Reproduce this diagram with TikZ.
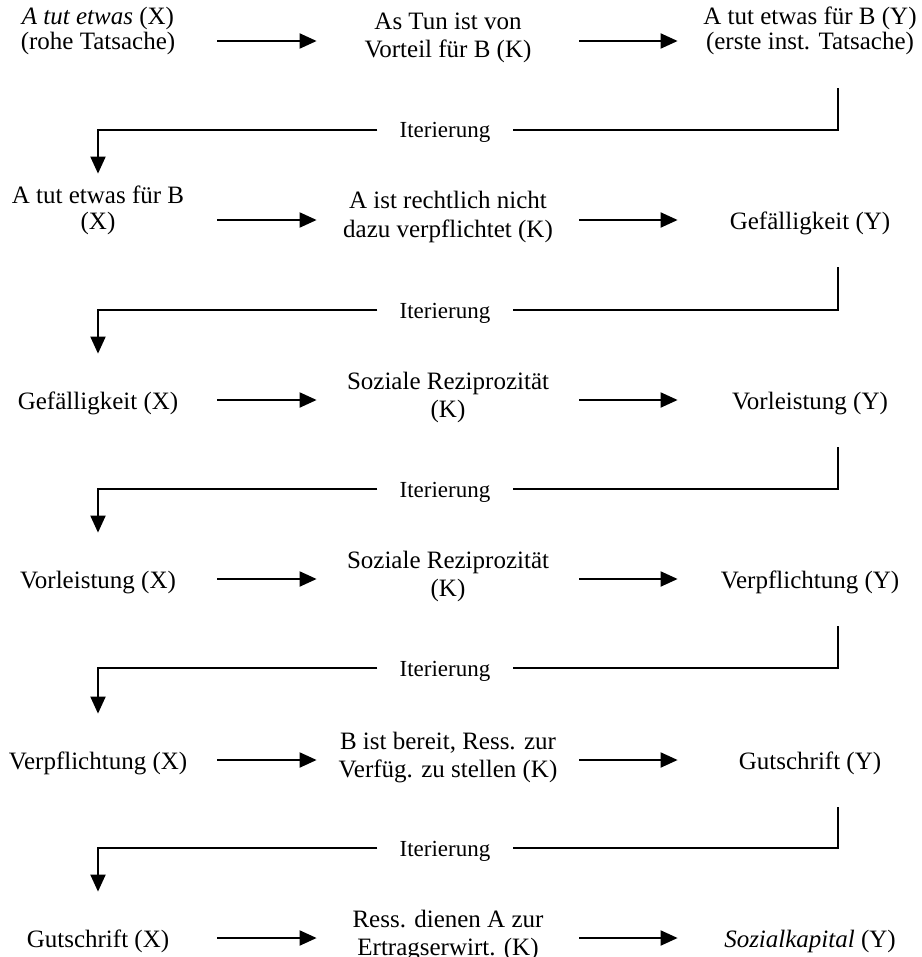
\documentclass[tikz,border=0pt]{standalone}
\usepackage{fontspec}
\setmainfont{Liberation Serif}
\usetikzlibrary{arrows.meta}

% two-line cell, aligned on its last line
\newcommand{\cell}[1]{\begin{tabular}[b]{@{}c@{}}#1\end{tabular}}

\begin{document}
\begin{tikzpicture}[x=0.5pt,y=-0.5pt,
  every node/.style={inner sep=0pt, anchor=base, font=\fontsize{12.5}{12.8}\selectfont},
  xcol/.style={text height=13pt, text depth=4pt, minimum width=119pt},
  kcol/.style={text height=21pt, text depth=4pt, minimum width=131pt, font=\fontsize{12.5}{14}\selectfont},
  ycol/.style={text height=13pt, text depth=4pt, minimum width=132pt},
  iterlabel/.style={anchor=center, fill=white, inner xsep=11pt, text height=8pt, text depth=0pt, font=\fontsize{11.5}{13}\selectfont},
  link/.style={line width=1pt},
  arr/.style={line width=1pt, -{Triangle[length=8.5pt,width=7.5pt]}},
  down/.style={arr, shorten >=14.5pt},
  up/.style={link, shorten <=15pt}]

\useasboundingbox (0,0) rectangle (921,957);

% Row 1
\node[xcol] (X1) at (98,50) {\cell{\textit{A tut etwas} (X)\\(rohe Tatsache)}};
\node[kcol] (K1) at (448,58) {\cell{As Tun ist von\\Vorteil für B (K)}};
\node[ycol] (Y1) at (810,50) {\cell{A tut etwas für B (Y)\\(erste inst. Tatsache)}};

% Row 2
\node[xcol] (X2) at (98,229) {\cell{A tut etwas für B\\(X)}};
\node[kcol] (K2) at (448,237) {\cell{A ist rechtlich nicht\\dazu verpflichtet (K)}};
\node[ycol] (Y2) at (810,229) {Gefälligkeit (Y)};

% Row 3
\node[xcol] (X3) at (98,409) {Gefälligkeit (X)};
\node[kcol] (K3) at (448,417) {\cell{Soziale Reziprozität\\(K)}};
\node[ycol] (Y3) at (810,409) {Vorleistung (Y)};

% Row 4
\node[xcol] (X4) at (98,588) {Vorleistung (X)};
\node[kcol] (K4) at (448,596) {\cell{Soziale Reziprozität\\(K)}};
\node[ycol] (Y4) at (810,588) {Verpflichtung (Y)};

% Row 5
\node[xcol] (X5) at (98,769) {Verpflichtung (X)};
\node[kcol] (K5) at (448,777) {\cell{B ist bereit, Ress. zur\\Verfüg. zu stellen (K)}};
\node[ycol] (Y5) at (810,769) {Gutschrift (Y)};

% Row 6
\node[xcol] (X6) at (98,947) {Gutschrift (X)};
\node[kcol] (K6) at (448,955) {\cell{Ress. dienen A zur\\Ertragserwirt. (K)}};
\node[ycol] (Y6) at (810,947) {\textit{Sozialkapital} (Y)};

% Iteration labels
\node[iterlabel] (I1) at (445,130) {Iterierung};
\node[iterlabel] (I2) at (445,310) {Iterierung};
\node[iterlabel] (I3) at (445,489) {Iterierung};
\node[iterlabel] (I4) at (445,668) {Iterierung};
\node[iterlabel] (I5) at (445,848) {Iterierung};

% Arrows within the rows
\draw[arr] (X1) -- (K1);
\draw[arr] (K1) -- (Y1);
\draw[arr] (X2) -- (K2);
\draw[arr] (K2) -- (Y2);
\draw[arr] (X3) -- (K3);
\draw[arr] (K3) -- (Y3);
\draw[arr] (X4) -- (K4);
\draw[arr] (K4) -- (Y4);
\draw[arr] (X5) -- (K5);
\draw[arr] (K5) -- (Y5);
\draw[arr] (X6) -- (K6);
\draw[arr] (K6) -- (Y6);

% Iteration: from Y down to the next X
\draw[up] ([xshift=14pt]Y1.south) |- (I1);
\draw[down] (I1) -| (X2.north);
\draw[up] ([xshift=14pt]Y2.south) |- (I2);
\draw[down] (I2) -| (X3.north);
\draw[up] ([xshift=14pt]Y3.south) |- (I3);
\draw[down] (I3) -| (X4.north);
\draw[up] ([xshift=14pt]Y4.south) |- (I4);
\draw[down] (I4) -| (X5.north);
\draw[up] ([xshift=14pt]Y5.south) |- (I5);
\draw[down] (I5) -| (X6.north);

\end{tikzpicture}
\end{document}
